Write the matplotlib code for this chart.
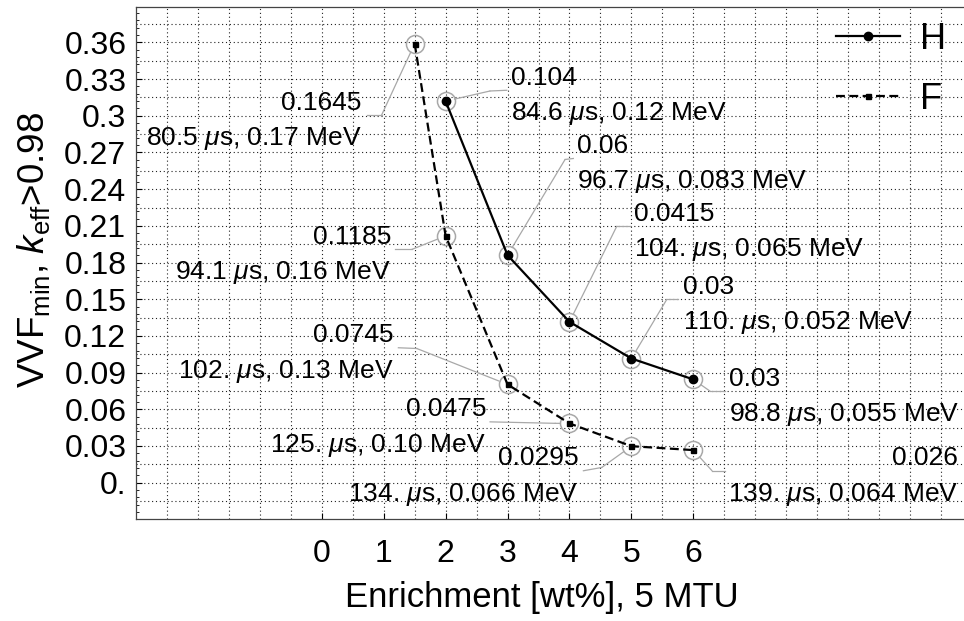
import matplotlib
matplotlib.use('Agg')
import matplotlib.pyplot as plt
import numpy as np

plt.rcParams['font.family'] = ['Liberation Sans', 'DejaVu Sans']
plt.rcParams['mathtext.fontset'] = 'custom'
plt.rcParams['mathtext.rm'] = 'Liberation Sans'
plt.rcParams['mathtext.it'] = 'Liberation Sans:italic'
plt.rcParams['mathtext.bf'] = 'Liberation Sans:bold'

# data
h_x = [2, 3, 4, 5, 6]
h_y = [0.312, 0.186, 0.1315, 0.1015, 0.0844]
f_x = [1.5, 2, 3, 4, 5, 6]
f_y = [0.359, 0.2018, 0.0803, 0.0484, 0.0298, 0.0266]

h_top = ['0.104', '0.06', '0.0415', '0.03', '0.03']
h_bottom = ['84.6 $\\mu$s, 0.12 MeV', '96.7 $\\mu$s, 0.083 MeV', '104. $\\mu$s, 0.065 MeV',
            '110. $\\mu$s, 0.052 MeV', '98.8 $\\mu$s, 0.055 MeV']
f_top = ['0.1645', '0.1185', '0.0745', '0.0475', '0.0295', '0.026']
f_bottom = ['80.5 $\\mu$s, 0.17 MeV', '94.1 $\\mu$s, 0.16 MeV', '102. $\\mu$s, 0.13 MeV',
            '125. $\\mu$s, 0.10 MeV', '134. $\\mu$s, 0.066 MeV', '139. $\\mu$s, 0.064 MeV']

x_ticks = [0, 1, 2, 3, 4, 5, 6]
y_ticks = [0, 0.03, 0.06, 0.09, 0.12, 0.15, 0.18, 0.21, 0.24, 0.27, 0.3, 0.33, 0.36]
y_ticklabels = ['0.', '0.03', '0.06', '0.09', '0.12', '0.15', '0.18', '0.21', '0.24',
                '0.27', '0.3', '0.33', '0.36']

# callout layout: elbow, end of leader (data coords), text x offset (px), alignment
h_layout = [((2.717, 0.3203), (2.987, 0.3209), 4, 'left'),
            ((3.929, 0.2643), (4.062, 0.2651), 4, 'left'),
            ((4.764, 0.2097), (4.979, 0.2097), 4, 'left'),
            ((5.571, 0.1498), (5.753, 0.1498), 5, 'left'),
            ((6.270, 0.0748), (6.512, 0.0748), 4, 'left')]
f_layout = [((0.965, 0.3005), (0.7225, 0.3005), -5, 'right'),
            ((1.453, 0.1907), (1.184, 0.1907), -4, 'right'),
            ((1.534, 0.1097), (1.237, 0.1103), -5, 'right'),
            ((3.767, 0.0485), (2.718, 0.0497), -4, 'right'),
            ((4.521, 0.0124), (4.225, 0.0097), -5, 'right'),
            ((6.302, 0.0097), (6.517, 0.0097), 233, 'right')]

fig = plt.figure(figsize=(9.64, 6.21), dpi=100)
ax = fig.add_axes([136 / 964, (621 - 519.3) / 621, (965.8 - 136) / 964, (519.3 - 7) / 621])
ax.set_xlim(-3, 10.4)
ax.set_ylim(-0.03, 0.389)

# dotted grid
for gx in np.arange(-2.5, 10.01, 0.5):
    ax.axvline(gx, color='#222222', lw=0.8, ls=(0, (1, 2.5)), zorder=0)
for gy in np.arange(-0.015, 0.3751, 0.015):
    ax.axhline(gy, color='#222222', lw=0.8, ls=(0, (1, 2.5)), zorder=0)

gray = '#a8a8a8'
ax.plot(h_x, h_y, color='black', lw=1.6, marker='o', ms=6, label='H', zorder=4)
ax.plot(f_x, f_y, color='black', lw=1.6, ls=(0, (4, 2)), marker='s', ms=3.6, label='F', zorder=4)
ax.plot(h_x, h_y, ls='none', marker='o', ms=13, mfc='none', mec=gray, mew=1.1, zorder=3)
ax.plot(f_x, f_y, ls='none', marker='o', ms=13, mfc='none', mec=gray, mew=1.1, zorder=3)


def callouts(xs, ys, tops, bottoms, layout):
    for x, y, t1, t2, (elbow, end, dx, ha) in zip(xs, ys, tops, bottoms, layout):
        ax.annotate('', xy=(x, y), xytext=elbow,
                    arrowprops=dict(arrowstyle='-', color=gray, lw=0.9, shrinkA=0, shrinkB=6.5))
        ax.plot([elbow[0], end[0]], [elbow[1], end[1]], color=gray, lw=0.9)
        ax.annotate(t1, xy=end, xytext=(dx, 12.5), textcoords='offset pixels',
                    ha=ha, va='center', fontsize=19)
        ax.annotate(t2, xy=end, xytext=(dx, -23.5), textcoords='offset pixels',
                    ha=ha, va='center', fontsize=19)


callouts(h_x, h_y, h_top, h_bottom, h_layout)
callouts(f_x, f_y, f_top, f_bottom, f_layout)

ax.set_xticks(x_ticks)
ax.set_xticklabels([str(v) for v in x_ticks], fontsize=23)
ax.set_yticks(y_ticks)
ax.set_yticklabels(y_ticklabels, fontsize=23)
ax.set_yticks(np.arange(-0.024, 0.389, 0.006), minor=True)
ax.tick_params(axis='both', which='major', direction='in', length=4, width=0.8)
ax.tick_params(axis='x', pad=14)
ax.tick_params(axis='y', pad=7)
ax.tick_params(axis='y', which='minor', direction='in', length=2, width=0.6)
for s in ax.spines.values():
    s.set_color('#444444')
    s.set_linewidth(0.9)

ax.set_xlabel('Enrichment [wt%], 5 MTU', fontsize=25)
ax.xaxis.set_label_coords((541.5 - 136) / 829.8, (519.3 - 598) / 512.3)
ax.xaxis.label.set_va('center')
ax.set_ylabel('VVF$_{\\mathrm{min}}$, $k_{\\mathrm{eff}}$>0.98', fontsize=26.5)
ax.yaxis.set_label_coords((34 - 136) / 829.8, (519.3 - 250) / 512.3)
ax.yaxis.label.set_va('center')

ax.legend(loc='upper left', bbox_to_anchor=(836 / 964, 1 - 22 / 621),
          bbox_transform=fig.transFigure, frameon=False, fontsize=26,
          handlelength=1.78, handletextpad=0.55, labelspacing=0.69, borderpad=0,
          borderaxespad=0, numpoints=1)

plt.savefig('out.png', dpi=100)
